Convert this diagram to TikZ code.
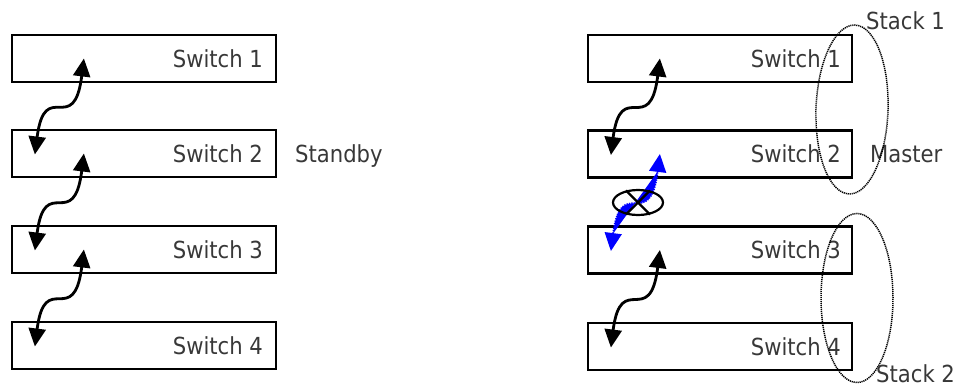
\documentclass[tikz,border=0pt]{standalone}
\usepackage{fontspec}
\setmainfont{DejaVu Sans Condensed}
\usetikzlibrary{arrows.meta,shapes.geometric,calc}
\definecolor{labelgray}{RGB}{56,56,56}
\definecolor{linkblue}{RGB}{0,0,255}
\tikzset{
  switchbox/.style={draw, line width=2.2pt, minimum width=264pt, minimum height=47pt, inner sep=0pt},
  boxlabel/.style={anchor=base east, inner sep=0pt, text=labelgray, font=\fontsize{23.5}{26}\selectfont},
  sidelabel/.style={anchor=base west, inner sep=0pt, text=labelgray, font=\fontsize{23.5}{26}\selectfont},
  headtip/.tip={Triangle[length=18pt,width=17pt]},
  link/.style={line width=2.8pt, headtip-headtip},
  brokenlink/.style={line width=1.8pt, headtip-headtip, draw=linkblue, fill=linkblue, dash pattern=on 1.3pt off 1.1pt},
  stackring/.style={draw, ellipse, line width=1.5pt, dash pattern=on 1.2pt off 0.8pt, minimum width=72pt, minimum height=169pt, inner sep=0pt},
  cutmark/.style={draw, ellipse, line width=2.2pt, minimum width=50pt, minimum height=25pt, inner sep=0pt}
}
\begin{document}
\begin{tikzpicture}[x=1pt, y=-1pt]
\useasboundingbox (0,0) rectangle (956,388);

% left stack of switches
\foreach \i/\y in {1/58.5, 2/153.5, 3/249.5, 4/345.5} {
  \node[switchbox] (l\i) at (144,\y) {};
  \node[boxlabel] (ll\i) at ($(l\i.east)+(-14,8.5)$) {Switch \i};
}
% right stack of switches
\foreach \i/\y in {1/58.5, 2/154, 3/250, 4/346.5} {
  \node[switchbox] (r\i) at (720,\y) {};
  \node[boxlabel] (rl\i) at ($(r\i.east)+(-12,8.5)$) {Switch \i};
}

% arrow end points inside each box
\foreach \s in {l,r} {
  \foreach \i in {1,2,3,4} {
    \coordinate (\s\i up) at ($(\s\i.west)+(73,0)$);
    \coordinate (\s\i dn) at ($(\s\i.west)+(24,1)$);
  }
}

% stacking links, left column
\draw[link] (l2dn) .. controls ($(l2dn)+(10,-78)$) and ($(l1up)+(-10,80)$) .. (l1up);
\draw[link] (l3dn) .. controls ($(l3dn)+(10,-78)$) and ($(l2up)+(-10,80)$) .. (l2up);
\draw[link] (l4dn) .. controls ($(l4dn)+(10,-78)$) and ($(l3up)+(-10,80)$) .. (l3up);

% stacking links, right column
\draw[link] (r2dn) .. controls ($(r2dn)+(10,-78)$) and ($(r1up)+(-10,80)$) .. (r1up);
\draw[brokenlink] (r3dn) .. controls ($(r3dn)+(10,-78)$) and ($(r2up)+(-10,80)$) .. (r2up);
\draw[link] (r4dn) .. controls ($(r4dn)+(10,-78)$) and ($(r3up)+(-10,80)$) .. (r3up);

% broken link marker
\node[cutmark] (cut) at (638,202.5) {};
\draw[line width=2.2pt] (cut.45) -- (cut.225) (cut.135) -- (cut.315);

% side labels
\node[sidelabel] (standby) at (295,162) {Standby};
\node[sidelabel] (master) at (870,162) {Master};

% stack outlines
\node[stackring, rotate=-2] (stack1) at (852,109.5) {};
\node[stackring] (stack2) at (857,298) {};
\node[sidelabel] (stack1lbl) at (866,29.5) {Stack 1};
\node[sidelabel] (stack2lbl) at (876,382) {Stack 2};
\end{tikzpicture}
\end{document}
